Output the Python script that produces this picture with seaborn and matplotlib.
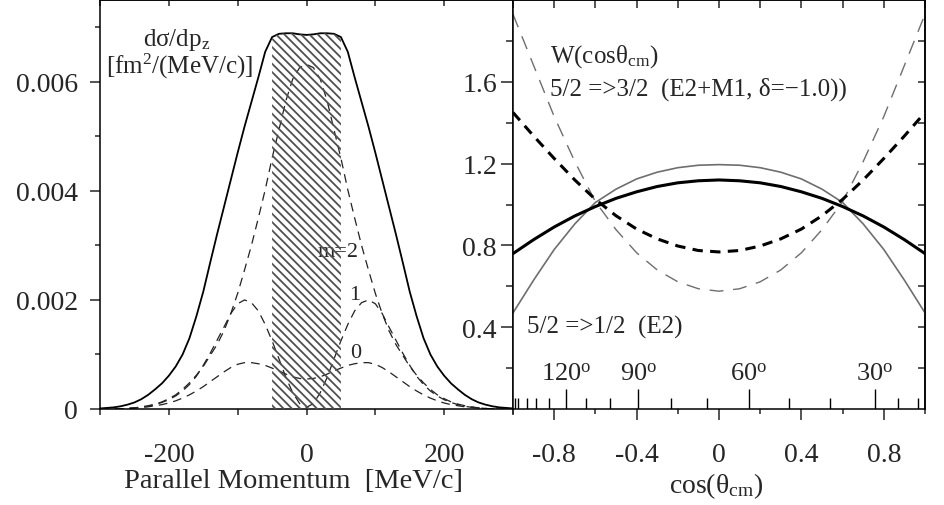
import matplotlib
matplotlib.use("Agg")
import matplotlib.pyplot as plt
import seaborn as sns

# ---------------- data: left panel (parallel momentum distributions) -------------
p_z = list(range(-300, 301, 10))
total = [0.00001, 0.00002, 0.00003, 0.00005, 0.00008, 0.00012, 0.00018, 0.00026, 0.00036, 0.00047,
         0.00061, 0.00078, 0.00100, 0.00130, 0.00170, 0.00215, 0.00268, 0.00320, 0.00370, 0.00420,
         0.00470, 0.00518, 0.00563, 0.00608, 0.00655, 0.00682, 0.00688, 0.00689, 0.00689, 0.00687,
         0.00686,
         0.00687, 0.00689, 0.00689, 0.00688, 0.00682, 0.00655, 0.00608, 0.00563, 0.00518, 0.00470,
         0.00420, 0.00370, 0.00320, 0.00268, 0.00215, 0.00170, 0.00130, 0.00100, 0.00078, 0.00061,
         0.00047, 0.00036, 0.00026, 0.00018, 0.00012, 0.00008, 0.00005, 0.00003, 0.00002, 0.00001]
m2 = [0, 0, 0, 0, 0.00001, 0.00002, 0.00004, 0.00006, 0.00009, 0.00013,
      0.00019, 0.00026, 0.00036, 0.00048, 0.00062, 0.00078, 0.00098, 0.00118, 0.00143, 0.00175,
      0.00212, 0.00255, 0.00300, 0.00350, 0.00402, 0.00460, 0.00512, 0.00565, 0.00605, 0.00626,
      0.00632,
      0.00626, 0.00605, 0.00565, 0.00512, 0.00460, 0.00402, 0.00350, 0.00300, 0.00255, 0.00212,
      0.00175, 0.00143, 0.00118, 0.00098, 0.00078, 0.00062, 0.00048, 0.00036, 0.00026, 0.00019,
      0.00013, 0.00009, 0.00006, 0.00004, 0.00002, 0.00001, 0, 0, 0, 0]
m1 = [0, 0, 0, 0, 0.00001, 0.00002, 0.00003, 0.00005, 0.00008, 0.00012,
      0.00017, 0.00024, 0.00033, 0.00045, 0.00060, 0.00080, 0.00102, 0.00126, 0.00150, 0.00175,
      0.00193, 0.00200, 0.00195, 0.00180, 0.00155, 0.00125, 0.00092, 0.00058, 0.00030, 0.00010,
      0.00003,
      0.00010, 0.00030, 0.00058, 0.00092, 0.00125, 0.00155, 0.00180, 0.00195, 0.00200, 0.00193,
      0.00175, 0.00150, 0.00126, 0.00102, 0.00080, 0.00060, 0.00045, 0.00033, 0.00024, 0.00017,
      0.00012, 0.00008, 0.00005, 0.00003, 0.00002, 0.00001, 0, 0, 0, 0]
m0 = [0, 0, 0, 0, 0.00001, 0.00002, 0.00003, 0.00004, 0.00006, 0.00008,
      0.00011, 0.00015, 0.00020, 0.00026, 0.00033, 0.00041, 0.00050, 0.00059, 0.00068, 0.00076,
      0.00082, 0.00085, 0.00085, 0.00083, 0.00080, 0.00075, 0.00070, 0.00064, 0.00059, 0.00056,
      0.00055,
      0.00056, 0.00059, 0.00064, 0.00070, 0.00075, 0.00080, 0.00083, 0.00085, 0.00085, 0.00082,
      0.00076, 0.00068, 0.00059, 0.00050, 0.00041, 0.00033, 0.00026, 0.00020, 0.00015, 0.00011,
      0.00008, 0.00006, 0.00004, 0.00003, 0.00002, 0.00001, 0, 0, 0, 0]
hatch_lo, hatch_hi = -50, 50
m_labels = ["m=2", "1", "0"]

left_yticks = [0, 0.002, 0.004, 0.006]
left_yticklabels = ["0", "0.002", "0.004", "0.006"]
left_xticks = [-200, 0, 200]
left_xticklabels = ["-200", "0", "200"]

# ---------------- data: right panel (angular distributions) ----------------------
cos_theta = [-1.0, -0.9, -0.8, -0.7, -0.6, -0.5, -0.4, -0.3, -0.2, -0.1, 0.0,
             0.1, 0.2, 0.3, 0.4, 0.5, 0.6, 0.7, 0.8, 0.9, 1.0]
w_thick_solid = [0.76, 0.828, 0.890, 0.944, 0.990, 1.030, 1.062, 1.088, 1.106, 1.116, 1.120,
                 1.116, 1.106, 1.088, 1.062, 1.030, 0.990, 0.944, 0.890, 0.828, 0.76]
w_thick_dash = [1.45, 1.335, 1.225, 1.12, 1.025, 0.945, 0.88, 0.832, 0.797, 0.775, 0.768,
                0.775, 0.797, 0.832, 0.88, 0.945, 1.025, 1.12, 1.225, 1.335, 1.45]
w_thin_solid = [0.47, 0.63, 0.78, 0.905, 1.01, 1.075, 1.125, 1.158, 1.18, 1.192, 1.195,
                1.192, 1.18, 1.158, 1.125, 1.075, 1.01, 0.905, 0.78, 0.63, 0.47]
w_thin_dash = [1.93, 1.68, 1.43, 1.21, 1.014, 0.877, 0.764, 0.680, 0.622, 0.588, 0.576,
               0.588, 0.622, 0.680, 0.764, 0.877, 1.014, 1.21, 1.43, 1.68, 1.93]

right_xticks = [-0.8, -0.4, 0, 0.4, 0.8]
right_xticklabels = ["-0.8", "-0.4", "0", "0.4", "0.8"]
right_yticks = [0.4, 0.8, 1.2, 1.6]
right_yticklabels = ["0.4", "0.8", "1.2", "1.6"]

# lab-angle scale drawn along the bottom of the right panel
angle_ticks = [-0.990, -0.974, -0.934, -0.890, -0.824, -0.646, -0.529, -0.233,
               -0.057, 0.338, 0.539, 0.870, 0.967]
angle_major = [-0.744, -0.392, 0.144, 0.757]
angle_labels = ["120", "90", "60", "30"]

# ---------------- style ----------------
sns.set_style("ticks")
plt.rcParams["font.family"] = ["Liberation Serif", "DejaVu Serif"]
plt.rcParams["mathtext.fontset"] = "custom"
plt.rcParams["mathtext.rm"] = "Liberation Serif"
plt.rcParams["mathtext.it"] = "Liberation Serif:italic"
plt.rcParams["mathtext.bf"] = "Liberation Serif:bold"
plt.rcParams["axes.unicode_minus"] = False
plt.rcParams["axes.linewidth"] = 1.1
plt.rcParams["hatch.linewidth"] = 1.3
plt.rcParams["axes.edgecolor"] = "black"

fig = plt.figure(figsize=(9.45, 5.06), dpi=100)
W, H = 945.0, 506.0
axL = fig.add_axes([100 / W, 96 / H, 413 / W, 409 / H])
axR = fig.add_axes([513 / W, 96 / H, 412 / W, 409 / H])

# ---------------- left panel ----------------
sns.lineplot(x=p_z, y=total, ax=axL, color="black", lw=1.3, estimator=None, sort=False)
for series in (m2, m1, m0):
    sns.lineplot(x=p_z, y=series, ax=axL, color="#222222", lw=0.9, estimator=None,
                 sort=False, linestyle=(0, (7, 4.8)))
sel = [hatch_lo <= v <= hatch_hi for v in p_z]
axL.fill_between(p_z, 0, total, where=sel, facecolor="none", edgecolor="#505050",
                 hatch="\\\\\\\\", linewidth=0, zorder=3)

axL.set_xlim(-300, 300)
axL.set_ylim(0, 0.0075)
axL.set_xticks(left_xticks)
axL.set_xticklabels(left_xticklabels)
axL.set_xticks([-300, -100, 100, 300], minor=True)
axL.set_yticks(left_yticks)
axL.set_yticklabels(left_yticklabels)
axL.set_yticks([0.001, 0.003, 0.005, 0.007], minor=True)
axL.tick_params(axis="x", which="both", direction="out", length=4.5, width=1.1,
                top=False, labelsize=20, pad=19.5)
axL.tick_params(axis="y", which="major", direction="out", length=7, width=1.1,
                right=False, labelsize=20, pad=9)
axL.tick_params(axis="y", which="minor", direction="out", length=3.6, width=1.1, right=False)
secLt = axL.secondary_xaxis("top")
secLt.set_xticks([-300, -200, -100, 0, 100, 200, 300])
secLt.set_xticklabels([])
secLt.tick_params(direction="in", length=4, width=1.1)
axL.set_xlabel("")
axL.set_ylabel("")
fig.text(294 / W, 1 - 488 / H, "Parallel Momentum  [MeV/c]", ha="center", va="baseline",
         fontsize=20.5)

axL.text(-188, 0.00668, "d\u03c3/dp$_{\\rm z}$", ha="center", va="baseline", fontsize=18)
axL.text(-185, 0.00617, "[fm$^{2}$/(MeV/c)]", ha="center", va="baseline", fontsize=18)
axL.text(16, 0.0028, m_labels[0], ha="left", va="baseline", fontsize=16, zorder=1)
axL.text(62, 0.00202, m_labels[1], ha="left", va="baseline", fontsize=16)
axL.text(63, 0.00096, m_labels[2], ha="left", va="baseline", fontsize=16)

# ---------------- right panel ----------------
sns.lineplot(x=cos_theta, y=w_thin_solid, ax=axR, color="#6e6e6e", lw=1.2, estimator=None, sort=False)
sns.lineplot(x=cos_theta, y=w_thin_dash, ax=axR, color="#6e6e6e", lw=1.0, estimator=None,
             sort=False, linestyle=(0, (10, 7)))
sns.lineplot(x=cos_theta, y=w_thick_solid, ax=axR, color="black", lw=2.2, estimator=None, sort=False)
sns.lineplot(x=cos_theta, y=w_thick_dash, ax=axR, color="black", lw=2.2, estimator=None,
             sort=False, linestyle=(0, (3.4, 2.4)))

axR.set_xlim(-1, 1)
axR.set_ylim(0, 2.0)
axR.set_xticks(right_xticks)
axR.set_xticklabels(right_xticklabels)
axR.set_xticks([-1.0, -0.6, -0.2, 0.2, 0.6, 1.0], minor=True)
axR.set_yticks(right_yticks)
axR.set_yticklabels(right_yticklabels)
axR.set_yticks([0.2, 0.6, 1.0, 1.4, 1.8], minor=True)
axR.tick_params(axis="x", which="major", direction="out", length=8, width=1.1,
                top=False, labelsize=20, pad=15.5)
axR.tick_params(axis="x", which="minor", direction="out", length=3.6, width=1.1, top=False)
axR.tick_params(axis="y", which="major", direction="out", length=8.6, width=1.1,
                right=False, labelsize=20, pad=3)
axR.tick_params(axis="y", which="minor", direction="out", length=5, width=1.1, right=False)
secRt = axR.secondary_xaxis("top")
secRt.set_xticks([-1.0, -0.8, -0.6, -0.4, -0.2, 0, 0.2, 0.4, 0.6, 0.8, 1.0])
secRt.set_xticklabels([])
secRt.tick_params(direction="in", length=5.5, width=1.1)
secRr = axR.secondary_yaxis("right")
secRr.set_yticks([0.2, 0.4, 0.6, 0.8, 1.0, 1.2, 1.4, 1.6, 1.8])
secRr.set_yticklabels([])
secRr.tick_params(direction="in", length=5, width=1.1)

tr = axR.get_xaxis_transform()
axR.vlines(angle_ticks, 0, 11 / 409, transform=tr, colors="black", lw=1.0)
axR.vlines(angle_major, 0, 20 / 409, transform=tr, colors="black", lw=1.0)
for pos, lab in zip(angle_major, angle_labels):
    axR.text(pos, 0.146, lab + "$^{\\rm o}$", ha="center", va="baseline", fontsize=19)

axR.set_xlabel("")
axR.set_ylabel("")
fig.text(716 / W, 1 - 493 / H, "cos(\u03b8$_{\\rm cm}$)", ha="center", va="baseline", fontsize=20)
axR.text(-0.82, 1.70, "W(cos\u03b8$_{\\rm cm}$)", ha="left", va="baseline", fontsize=18)
axR.text(-0.82, 1.537, "5/2 =>3/2  (E2+M1, \u03b4=\u22121.0))", ha="left", va="baseline", fontsize=18)
axR.text(-0.932, 0.376, "5/2 =>1/2  (E2)", ha="left", va="baseline", fontsize=18)

for ax in (axL, axR):
    for s in ax.spines.values():
        s.set_visible(True)
        s.set_color("black")
        s.set_linewidth(1.1)

fig.savefig("out.png", dpi=100)
